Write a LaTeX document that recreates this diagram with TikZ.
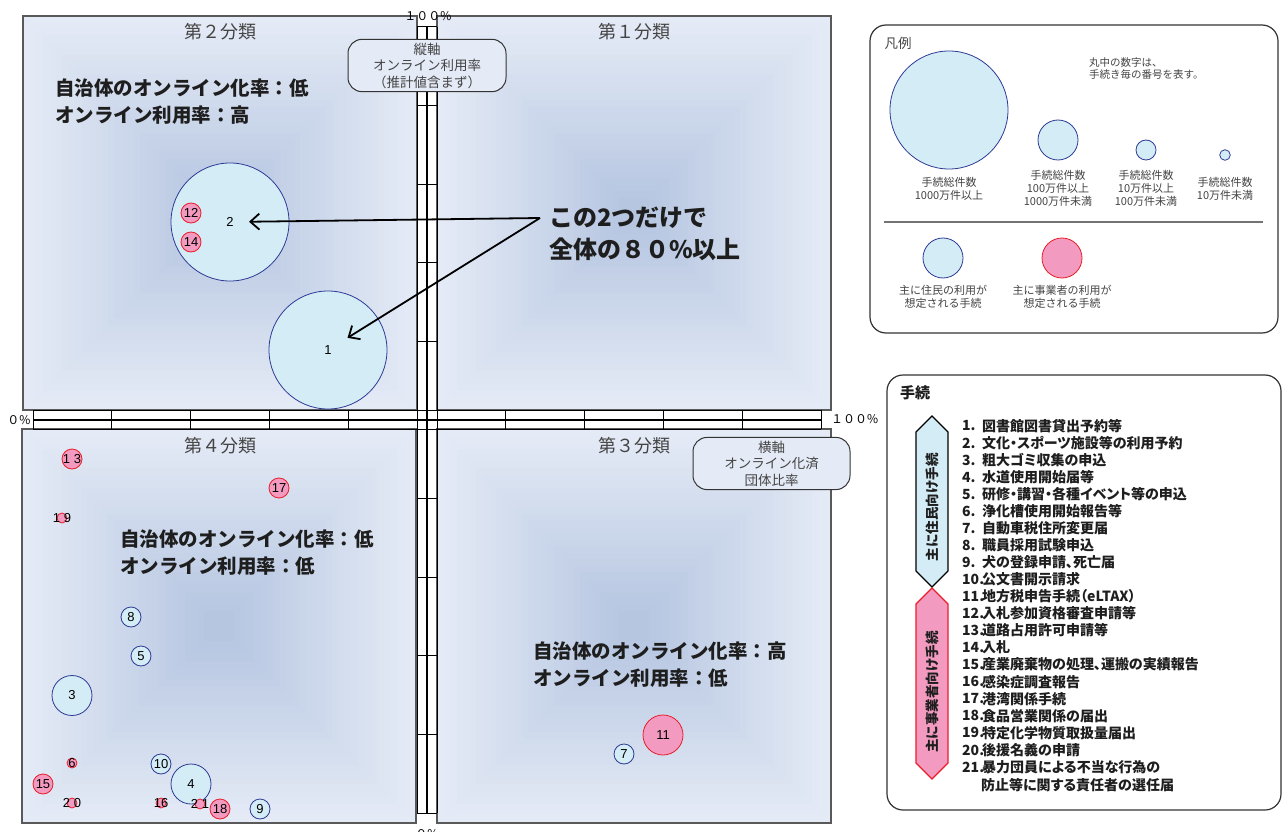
\documentclass[tikz,border=0pt]{standalone}
\usepackage{fontspec}
\setmainfont{Noto Sans CJK JP}
\newfontfamily\numfont{Liberation Sans}
\newfontfamily\propfont[RawFeature=+palt]{Noto Sans CJK JP}
\newfontfamily\heavyfont{Noto Sans CJK JP Black}
\usetikzlibrary{arrows.meta}
\definecolor{panel}{RGB}{229,235,246}
\definecolor{panelcore}{RGB}{182,198,225}
\definecolor{resfill}{RGB}{211,236,245}
\definecolor{resline}{RGB}{46,58,150}
\definecolor{busfill}{RGB}{243,154,192}
\definecolor{busline}{RGB}{232,30,40}
\definecolor{txtgray}{RGB}{68,68,68}
\definecolor{txtdark}{RGB}{30,30,30}
\begin{document}
\begin{tikzpicture}[x=1pt,y=-1pt]

			\tikzstyle{panelbox}=[draw=black!65,line width=1.2pt]
			\tikzstyle{ruler}=[draw=black,line width=1pt]
			\tikzstyle{title}=[text=txtgray,inner sep=0pt,
				font=\fontsize{18}{18}\selectfont]
			\tikzstyle{note}=[text=txtdark,anchor=west,align=left,inner sep=0pt,
				font=\heavyfont\fontsize{19.5}{27}\selectfont]
			\tikzstyle{axisbox}=[fill=panel,draw=black!80,line width=1pt,
				rounded corners=14pt,align=center,text=txtgray,
				font=\fontsize{13.5}{16.5}\selectfont]
			\tikzstyle{pct}=[inner sep=0pt,font=\fontsize{12}{12}\selectfont]
			\tikzstyle{res}=[circle,draw=resline,fill=resfill,line width=0.8pt,inner sep=0pt]
			\tikzstyle{bus}=[circle,draw=busline,fill=busfill,line width=0.8pt,inner sep=0pt]
			\tikzstyle{xl}=[minimum size=118pt]
			\tikzstyle{md}=[minimum size=40pt]
			\tikzstyle{sm}=[minimum size=20pt]
			\tikzstyle{xs}=[minimum size=10pt]
			\tikzstyle{num}=[inner sep=0pt,font=\numfont\fontsize{13}{13}\selectfont]
			\tikzset{tag/.style={label={[num]center:#1}}}
			\tikzstyle{pointer}=[line width=1.8pt,
				-{Straight Barb[length=9pt,width=16pt]}]
			\tikzstyle{frame}=[draw=black!80,line width=1.2pt,rounded corners=16pt]
			\tikzstyle{legtext}=[text=txtgray,align=center,inner sep=0pt,
				font=\fontsize{11}{13.3}\selectfont]
			\tikzstyle{listtxt}=[text=txtdark,anchor=west,inner sep=0pt,
				font=\propfont\bfseries\fontsize{14}{14}\selectfont]

			\useasboundingbox (0,0) rectangle (1283,832);
			\fill[white] (0,0) rectangle (1283,832);

			% quadrant panels
			\foreach \qx/\qy in {23/16,437/16,22/429,437/429}{
				\foreach \i in {0,...,28}{
					\pgfmathtruncatemacro{\mix}{\i*100/28}
					\fill[panelcore!\mix!panel]
						(\qx+\i*6.5,\qy+\i*6.5) rectangle (\qx+394-\i*6.5,\qy+394-\i*6.5);
				}
				\draw[panelbox] (\qx,\qy) rectangle (\qx+394,\qy+394);
			}

			% rulers
			\draw[ruler] (417,27) -- (417,813) (437,27) -- (437,813);
			\draw[ruler] (33,410) -- (821,410) (33,429) -- (821,429);
			\foreach \k in {0,...,10}{
				\draw[ruler] (417,{27+\k*78.6}) -- (437,{27+\k*78.6});
				\draw[ruler] ({33+\k*78.8},410) -- ({33+\k*78.8},429);
			}
			\fill[white] (417.6,410.6) rectangle (436.4,428.4);
			\draw[ruler,line width=1.2pt] (427,27) -- (427,813);
			\draw[ruler,line width=1.2pt] (33,420) -- (821,420);

			\node[pct] (top)    at (428,16)  {１００\%};
			\node[pct] (left)   at (19,420)  {０\%};
			\node[pct,anchor=west] (right) at (831,419) {１００\%};
			\node[pct] (bottom) at (427,834) {０\%};

			\node[title] (q2) at (220,32)  {第２分類};
			\node[title] (q1) at (634,32)  {第１分類};
			\node[title] (q4) at (220,446) {第４分類};
			\node[title] (q3) at (634,446) {第３分類};

			\node[axisbox,minimum width=158pt,minimum height=49pt] (vaxis)
				at (427,65.5) {縦軸\\オンライン利用率\\（推計値含まず）};
			\node[axisbox,minimum width=157pt,minimum height=49pt] (haxis)
				at (771.5,463.5) {横軸\\オンライン化済\\団体比率};

			\node[note] (q2note) at (55,101.5)
				{自治体のオンライン化率：低\\オンライン利用率：高};
			\node[note] (q4note) at (120,553)
				{自治体のオンライン化率：低\\オンライン利用率：低};
			\node[note] (q3note) at (533,664.5)
				{自治体のオンライン化率：高\\オンライン利用率：低};

			% bubbles
			\node[res,xl,tag=1] (1) at (328,350) {};
			\node[res,xl,tag=2] (2) at (230,222) {};
			\node[bus,sm,tag=12] (12) at (191,213) {};
			\node[bus,sm,tag=14] (14) at (191,242) {};
			\node[bus,sm,tag=1 3] (13) at (72,459) {};
			\node[bus,sm,tag=17] (17) at (279,488) {};
			\node[bus,xs,tag=1 9] (19) at (62,518) {};
			\node[res,sm,tag=8] (8) at (131,617) {};
			\node[res,sm,tag=5] (5) at (141,656) {};
			\node[res,md,tag=3] (3) at (72,695.5) {};
			\node[bus,xs,tag=6] (6) at (72,763) {};
			\node[res,sm,tag=10] (10) at (161,764) {};
			\node[res,md,tag=4] (4) at (191,784) {};
			\node[bus,sm,tag=15] (15) at (43,784) {};
			\node[bus,xs,tag=2 0] (20) at (72,803) {};
			\node[bus,xs,tag=16] (16) at (161,803) {};
			\node[bus,xs,tag=2 1] (21) at (200,804) {};
			\node[bus,sm,tag=18] (18) at (220,809) {};
			\node[res,sm,tag=9] (9) at (260,809) {};
			\node[bus,md,tag=11] (11) at (663,735) {};
			\node[res,sm,tag=7] (7) at (624,754) {};

			% callout
			\node[note,font=\heavyfont\fontsize{24}{32}\selectfont] (callout)
				at (549,234) {この2つだけで\\全体の８０\%以上};
			\coordinate (fork) at (540,218);
			\draw[pointer,shorten >=19pt] (fork) -- (2.center);
			\draw[pointer,shorten >=23pt] (fork) -- (1.center);

			% legend
			\draw[frame] (870,25) rectangle (1278,333);
			\node[text=txtgray,font=\fontsize{13.5}{13.5}\selectfont] (legtitle)
				at (898,43) {凡例};
			\node[legtext,align=left,anchor=west,font=\fontsize{10.5}{12.3}\selectfont]
				(legnote) at (1089,68.5) {丸中の数字は、\\手続き毎の番号を表す。};
			\node[res,xl] (lg1) at (949,110) {};
			\node[res,md] (lg2) at (1058,140) {};
			\node[res,sm] (lg3) at (1146,150) {};
			\node[res,xs,minimum size=10.6pt] (lg4) at (1225,155) {};
			\node[legtext] (lgt1) at (949,188.5) {手続総件数\\1000万件以上};
			\node[legtext] (lgt2) at (1058,188.5) {手続総件数\\100万件以上\\1000万件未満};
			\node[legtext] (lgt3) at (1146,188.5) {手続総件数\\10万件以上\\100万件未満};
			\node[legtext] (lgt4) at (1225,188.5) {手続総件数\\10万件未満};
			\draw[black!55,line width=1.5pt] (884,222) -- (1263,222);
			\node[res,md] (lgres) at (943,258) {};
			\node[bus,md] (lgbus) at (1062,258) {};
			\node[legtext] (lgtres) at (943,297) {主に住民の利用が\\想定される手続};
			\node[legtext] (lgtbus) at (1062,297) {主に事業者の利用が\\想定される手続};

			% procedure list
			\draw[frame] (887,375) rectangle (1281,810);
			\node[text=txtdark,font=\bfseries\fontsize{15}{15}\selectfont] (listtitle)
				at (915,393) {手続};
			\draw[fill=resfill,draw=black,line width=1.2pt]
				(932,416) -- (948,432) -- (948,571) -- (932,587)
				-- (916,571) -- (916,432) -- cycle;
			\draw[fill=busfill,draw=busline,line width=1.2pt]
				(932,588) -- (948,604) -- (948,763) -- (932,779)
				-- (916,763) -- (916,604) -- cycle;
			\node[rotate=90,text=txtdark,font=\bfseries\fontsize{13.5}{13.5}\selectfont]
				(resband) at (932,507) {主に住民向け手続};
			\node[rotate=90,text=txtdark,font=\bfseries\fontsize{13.5}{13.5}\selectfont]
				(busband) at (932,692) {主に事業者向け手続};

			\foreach \n/\t [count=\i] in {
				1./図書館図書貸出予約等,
				2./文化・スポーツ施設等の利用予約,
				3./粗大ゴミ収集の申込,
				4./水道使用開始届等,
				5./研修・講習・各種イベント等の申込,
				6./浄化槽使用開始報告等,
				7./自動車税住所変更届,
				8./職員採用試験申込,
				9./犬の登録申請、死亡届,
				10./公文書開示請求,
				11./地方税申告手続（eLTAX）,
				12./入札参加資格審査申請等,
				13./道路占用許可申請等,
				14./入札,
				15./産業廃棄物の処理、運搬の実績報告,
				16./感染症調査報告,
				17./港湾関係手続,
				18./食品営業関係の届出,
				19./特定化学物質取扱量届出,
				20./後援名義の申請,
				21./暴力団員による不当な行為の}{
				\node[listtxt] (n\i) at (962,{426+(\i-1)*17.05}) {\n};
				\node[listtxt] (t\i) at (982,{426+(\i-1)*17.05}) {\t};
			}
			\node[listtxt] (t21b) at (981,785) {防止等に関する責任者の選任届};

\end{tikzpicture}
\end{document}
